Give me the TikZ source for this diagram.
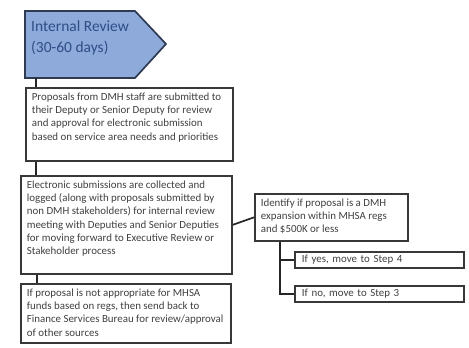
\documentclass[tikz,border=0pt]{standalone}
\usepackage{fontspec}
\setmainfont{Carlito}
\definecolor{penfill}{HTML}{8EAADB}
\definecolor{penline}{HTML}{2E3B52}
\definecolor{titletxt}{HTML}{2F4D86}
\definecolor{boxline}{HTML}{383838}
\definecolor{bodytxt}{HTML}{404040}
\newcommand\boxtext[3]{\parbox[c][#2][t]{#1}{\raggedright #3}}
\tikzset{
  bx/.style={draw=boxline, line width=1.7pt, fill=white, anchor=north west, inner xsep=6pt, inner ysep=5pt,
    font=\fontsize{10.9}{13.2}\selectfont, text=bodytxt},
  smallbx/.style={draw=boxline, line width=1.7pt, fill=white, anchor=north west, inner xsep=7pt, inner ysep=0pt,
    text width=155pt, minimum height=16pt, align=left, font=\fontsize{10.9}{13.2}\selectfont, text=bodytxt},
  conn/.style={draw=black!85, line width=1.7pt}
}
\begin{document}
\begin{tikzpicture}[x=1pt,y=-1pt]
\useasboundingbox (0,0) rectangle (469,348);
% title pentagon
\draw[fill=penfill, draw=penline, line width=1.7pt] (25,11) -- (135,11) -- (166,44) -- (135,78) -- (25,78) -- cycle;
\node[anchor=north west, inner sep=0pt, text=titletxt, align=left, font=\fontsize{15.5}{20.5}\selectfont] (title) at (31,21) {Internal Review\\(30-60 days)};
\coordinate (tb) at (36,78);
% boxes
\node[bx] (b1) at (25,87) {\boxtext{195pt}{63pt}{Proposals from DMH staff are submitted to\\their Deputy or Senior Deputy for review\\and approval for electronic submission\\based on service area needs and priorities}};
\node[bx] (b2) at (20,175) {\boxtext{199pt}{88pt}{Electronic submissions are collected and\\logged (along with proposals submitted by\\non DMH stakeholders) for internal review\\meeting with Deputies and Senior Deputies\\for moving forward to Executive Review or\\Stakeholder process}};
\node[bx] (b3) at (20,283) {\boxtext{198pt}{49pt}{If proposal is not appropriate for MHSA\\funds based on regs, then send back to\\Finance Services Bureau for review/approval\\of other sources}};
\node[bx] (b4) at (254,193) {\boxtext{141pt}{37pt}{Identify if proposal is a DMH\\expansion within MHSA regs\\and \$500K or less}};
\node[smallbx] (b5) at (294,251) {If yes, move to Step 4};
\node[smallbx] (b6) at (294,285) {If no, move to Step 3};
% connectors
\draw[conn] (tb) -- (tb |- b1.north);
\draw[conn] ([xshift=11pt]b1.south west) -- ([xshift=16pt]b2.north west);
\draw[conn] ([xshift=17pt]b2.south west) -- ([xshift=17pt]b3.north west);
\draw[conn] (b2.east) -- (b4.west);
\coordinate (j) at ([xshift=26pt]b4.south west);
\draw[conn] (j) -- (j |- b6.west) -- (b6.west);
\draw[conn] (j |- b5.west) -- (b5.west);
\end{tikzpicture}
\end{document}
